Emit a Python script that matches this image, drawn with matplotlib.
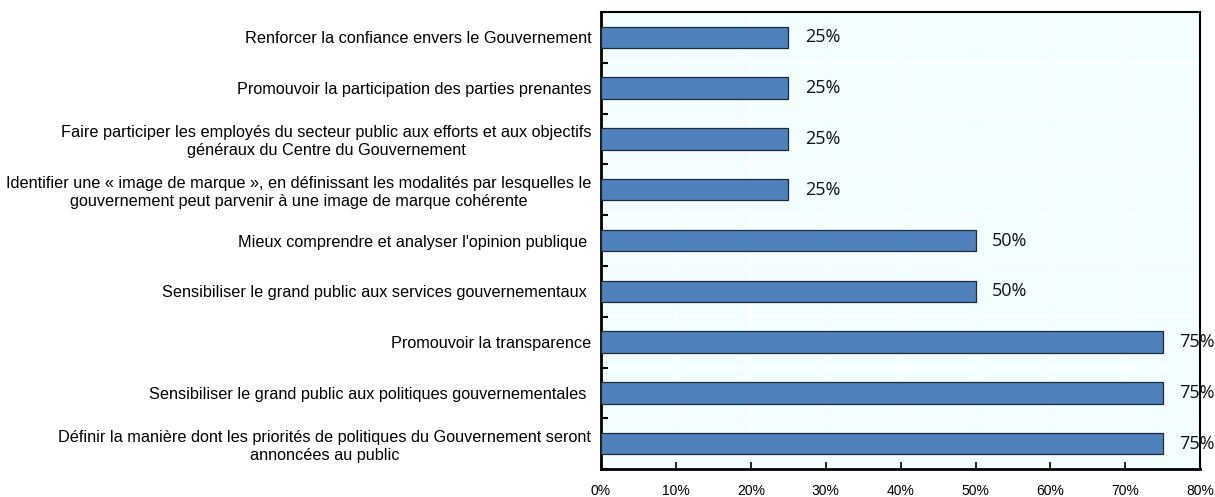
import matplotlib.pyplot as plt
from matplotlib.ticker import MultipleLocator, FixedLocator, PercentFormatter

categories = [
    "Renforcer la confiance envers le Gouvernement",
    "Promouvoir la participation des parties prenantes",
    "Faire participer les employés du secteur public aux efforts et aux objectifs\ngénéraux du Centre du Gouvernement",
    "Identifier une « image de marque », en définissant les modalités par lesquelles le\ngouvernement peut parvenir à une image de marque cohérente",
    "Mieux comprendre et analyser l'opinion publique ",
    "Sensibiliser le grand public aux services gouvernementaux ",
    "Promouvoir la transparence",
    "Sensibiliser le grand public aux politiques gouvernementales ",
    "Définir la manière dont les priorités de politiques du Gouvernement seront\nannoncées au public",
]
shares = [25, 25, 25, 25, 50, 50, 75, 75, 75]

fig = plt.figure(figsize=(12.15, 4.97), dpi=100)
ax = fig.add_axes([0.4947, 0.056, 0.4932, 0.920])
ax.set_facecolor('#F3FFFF')

y = list(range(len(categories)))
ax.barh(y, shares, height=0.42, color='#4F81BD', edgecolor='#1c2a3a', linewidth=0.9, zorder=3)

for yi, v in zip(y, shares):
    ax.text(v + 2.2, yi, f'{v}%', ha='left', va='center', fontsize=13,
            family='Open Sans', color='#111111', zorder=4, clip_on=False)

ax.set_xlim(0, 80)
ax.set_ylim(len(categories) - 0.5, -0.5)

ax.xaxis.set_major_locator(MultipleLocator(10))
ax.xaxis.set_major_formatter(PercentFormatter(decimals=0))
ax.set_yticks(y)
ax.set_yticklabels(categories, family='Liberation Sans', fontsize=11.7,
                   ha='right', multialignment='center', linespacing=1.25)
ax.tick_params(axis='y', which='major', length=0, pad=7)
ax.yaxis.set_minor_locator(FixedLocator([i + 0.5 for i in range(-1, len(categories))]))
ax.tick_params(axis='y', which='minor', direction='in', length=5, width=1.5)
ax.tick_params(axis='x', direction='in', length=5, width=1.2, labelsize=10, pad=11)
for lab in ax.get_xticklabels():
    lab.set_family('Liberation Sans')

ax.grid(axis='x', color='white', linewidth=1.2, zorder=1)
ax.grid(axis='y', which='minor', color='white', linewidth=1.2, zorder=1)

for side in ['left', 'bottom']:
    ax.spines[side].set_linewidth(2)
for side in ['top', 'right']:
    ax.spines[side].set_linewidth(1.5)

plt.savefig('out.png', dpi=100)
